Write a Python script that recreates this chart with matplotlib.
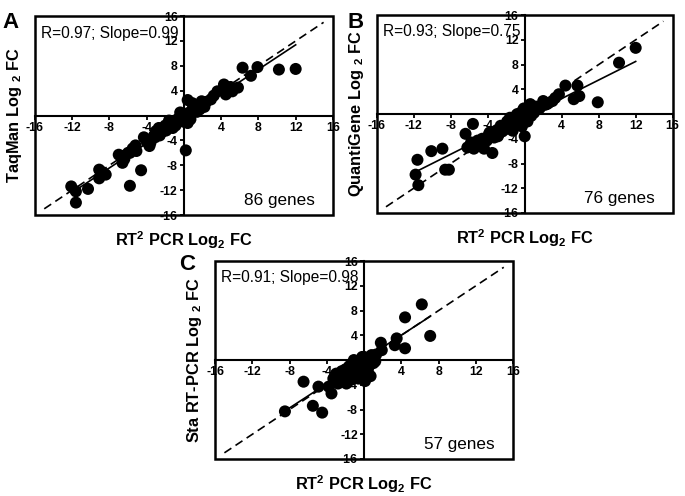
import matplotlib
matplotlib.use('Agg')
import matplotlib.pyplot as plt
from matplotlib.patches import Rectangle
import numpy as np

plt.rcParams['font.family'] = ['Liberation Sans', 'DejaVu Sans']
plt.rcParams['mathtext.fontset'] = 'custom'
plt.rcParams['mathtext.rm'] = 'Liberation Sans'
plt.rcParams['mathtext.bf'] = 'Liberation Sans:bold'
plt.rcParams['axes.unicode_minus'] = False

# Panel A: RT2 PCR vs TaqMan (log2 fold change)
taqman_x = [-12.1, -11.6, -11.6, -10.3, -9.1, -9.1, -8.4, -8.9, -8.6, -6.6, -6.6, -6.4,
            -5.8, -5.1, -5.5, -5.8, -4.6, -3.7, -3.1, -4.0, -3.5, -3.2, -3.0, -2.8,
            -2.5, -2.2, -2.0, -1.8, -1.5, -1.3, -1.0, -0.8, -0.6, -0.5, -0.3, -0.2,
            0.0, 0.1, 0.2, 0.3, 0.5, 0.6, 0.8, 1.0, 1.2, 1.0, 1.5, 1.8, 1.9, 2.4,
            2.9, 3.2, 3.6, 4.5, 4.3, 5.2, 5.8, 6.3, 7.2, 7.9, 10.2, 12.0, 0.4, 0.2,
            -4.3, -2.6, -1.2, -0.9, 0.4, 0.7, 1.4, -3.6, -6.0, -7.0, 2.2, 5.0,
            -0.4, 0.9, -1.6, -2.3, 1.7, -5.2, -2.7, -1.9, 0.0, 4.6]
taqman_y = [-11.4, -12.2, -14.0, -11.8, -8.7, -10.1, -9.5, -9.0, -9.3, -6.5, -7.6, -7.0,
            -6.0, -5.7, -5.3, -11.3, -8.8, -4.9, -3.5, -4.2, -3.8, -3.2, -2.5, -2.8,
            -2.2, -2.0, -1.6, -1.8, -1.3, -1.0, -1.2, -0.7, -0.5, -0.9, -0.3, -0.6,
            -0.2, 0.1, -0.4, 0.3, 0.4, 0.0, 0.7, 0.9, 1.3, 1.6, 1.2, 1.8, 2.3, 2.2,
            2.6, 3.2, 3.9, 3.4, 5.0, 3.9, 4.5, 7.7, 6.4, 7.8, 7.4, 7.5, 2.5, -5.6,
            -3.5, -3.2, -2.0, -1.6, -1.2, -0.6, 0.6, -4.4, -6.0, -6.3, 1.4, 4.6,
            0.5, 2.0, -0.8, -2.6, 1.0, -4.8, -2.0, -2.4, -1.0, 4.2]

# Panel B: RT2 PCR vs QuantiGene
qg_x = [-11.8, -11.5, -11.6, -10.1, -8.9, -8.6, -8.2, -6.4, -5.6, -6.2, -5.5, -5.1,
        -4.8, -4.4, -3.5, -4.1, -3.3, -2.8, -2.6, -1.7, -1.3, -0.8, -0.6, 0.0,
        12.0, 10.2, 7.9, 5.7, 5.9, 5.3, 4.4, 3.7, 3.0, 2.0, 0.6, 1.3,
        -2.2, -1.9, -1.5, -1.0, -0.5, -0.3, 0.2, 0.4, 0.8, 1.0, 1.6, 2.4, -3.0,
        -3.8, -4.6, -2.4, -1.2, -0.2, 0.3, 0.9, 1.8, 2.6, -0.9, -1.6, -2.0, -5.8,
        -0.4, 0.1, 0.5, -1.1, -2.9, -3.9, 1.2, 2.2, -0.7, -0.1, 0.7, -1.4, -2.5, 3.3]
qg_y = [-9.8, -11.5, -7.4, -6.0, -5.6, -9.0, -9.0, -3.2, -1.6, -5.4, -5.6, -4.3,
        -5.1, -5.6, -6.3, -4.3, -3.8, -3.2, -1.9, -1.6, -2.7, 0.0, -1.6, -3.6,
        10.7, 8.3, 1.9, 4.6, 2.9, 2.4, 4.6, 3.2, 2.1, 2.1, 1.6, 0.8,
        -2.0, -1.2, -2.2, -0.8, -1.0, -2.0, 0.4, -0.5, 1.0, 0.2, 0.9, 1.6, -2.6,
        -3.0, -4.0, -2.8, -1.0, 0.6, -1.2, 0.5, 1.3, 1.8, -0.2, -0.6, -2.4, -4.6,
        -0.4, -0.8, 0.3, -1.8, -3.6, -3.4, 1.2, 1.5, -1.4, 0.9, -0.3, -1.5, -2.3, 2.6]

# Panel C: RT2 PCR vs standard RT-PCR
sta_x = [-8.5, -6.5, -5.5, -4.5, -4.9, -3.5, -3.8, -3.3, -2.8, -2.2, -1.9, -1.3,
         -1.0, -0.2, 6.2, 4.4, 7.1, 4.4, 3.5, 3.3, 1.8, 1.9, 0.8, 0.0, -1.1, 0.6,
         0.5, 0.2, -0.5, 1.0, -1.5, -2.5, -0.8, -1.8, -0.3, 0.3, -2.0, -1.2, 0.9,
         -0.6, 0.4, -1.6, -2.4, 1.2, -0.1, -0.9, 0.7, -3.0, -1.4, 0.1, -0.4, -2.7,
         1.3, -1.9, 0.6, -0.7, -1.0]
sta_y = [-8.3, -3.5, -7.4, -8.5, -4.3, -5.4, -4.3, -3.0, -3.8, -3.2, -3.8, -1.3,
         -0.5, 0.5, 9.0, 6.9, 3.9, 1.9, 3.5, 2.4, 2.8, 1.6, 0.8, 0.5, 0.0, 0.1,
         -1.0, -2.0, -2.5, -0.5, -2.0, -2.5, -1.5, -2.8, -0.8, -0.3, -1.5, -2.2, 0.3,
         -3.0, -1.6, -1.0, -1.8, -0.2, -1.1, -0.3, -2.6, -2.2, -3.2, -3.4, -1.8, -3.5,
         0.9, -2.3, 0.4, -0.9, -2.9]

panels = [
    dict(letter='A', x=taqman_x, y=taqman_y, ylabel='TaqMan Log $_{\\mathbf{2}}$ FC',
         stats='R=0.97; Slope=0.99', n='86 genes', slope=0.99, icpt=-0.5,
         rect=[0.051, 0.5665, 0.435, 0.401], letter_xy=(0.003, 0.975)),
    dict(letter='B', x=qg_x, y=qg_y, ylabel='QuantiGene Log $_{\\mathbf{2}}$ FC',
         stats='R=0.93; Slope=0.75', n='76 genes', slope=0.75, icpt=-0.5,
         rect=[0.550, 0.5706, 0.432, 0.399], letter_xy=(0.508, 0.975)),
    dict(letter='C', x=sta_x, y=sta_y, ylabel='Sta RT-PCR Log $_{\\mathbf{2}}$ FC',
         stats='R=0.91; Slope=0.98', n='57 genes', slope=0.98, icpt=0.1,
         rect=[0.314, 0.0746, 0.435, 0.399], letter_xy=(0.262, 0.487)),
]

fig = plt.figure(figsize=(6.85, 4.96), dpi=100)
ticks = [-16, -12, -8, -4, 4, 8, 12, 16]

for p in panels:
    ax = fig.add_axes(p['rect'])
    ax.set_xlim(-16, 16)
    ax.set_ylim(-16, 16)

    # identity line and regression fit
    ident = np.array([-15, 15])
    ax.plot(ident, ident, color='black', ls=(0, (5, 3)), lw=1.2, zorder=2)
    fx = np.array([min(p['x']), max(p['x'])])
    ax.plot(fx, p['slope'] * fx + p['icpt'], color='black', lw=1.2, zorder=2)

    ax.scatter(p['x'], p['y'], s=75, color='black', edgecolors='none', zorder=3)

    # axes crossing at zero, with a box around the plot
    ax.spines['left'].set_position('zero')
    ax.spines['bottom'].set_position('zero')
    ax.spines['top'].set_visible(False)
    ax.spines['right'].set_visible(False)
    for s in ('left', 'bottom'):
        ax.spines[s].set_linewidth(1.5)
    ax.add_patch(Rectangle((0, 0), 1, 1, transform=ax.transAxes, fill=False,
                           lw=1.8, ec='black', clip_on=False, zorder=4))
    ax.set_xticks(ticks)
    ax.set_yticks(ticks)
    ax.tick_params(direction='out', length=3, width=1.3, labelsize=8.8, pad=1.5)
    for lab in ax.get_xticklabels() + ax.get_yticklabels():
        lab.set_fontweight('bold')

    ax.text(0.02, 0.915, p['stats'], transform=ax.transAxes, fontsize=11.2,
            va='center', ha='left')
    ax.text(0.82, 0.075, p['n'], transform=ax.transAxes, fontsize=12.3,
            va='center', ha='center')
    ax.text(-0.07, 0.5, p['ylabel'], transform=ax.transAxes, rotation=90,
            fontsize=11.8, fontweight='bold', va='center', ha='center')
    ax.text(0.5, -0.125, 'RT$^{\\mathbf{2}}$ PCR Log$_{\\mathbf{2}}$ FC',
            transform=ax.transAxes, fontsize=11.8, fontweight='bold',
            va='center', ha='center')
    fig.text(p['letter_xy'][0], p['letter_xy'][1], p['letter'], fontsize=16,
             fontweight='bold', va='top', ha='left')

fig.savefig('out.png', dpi=100)
